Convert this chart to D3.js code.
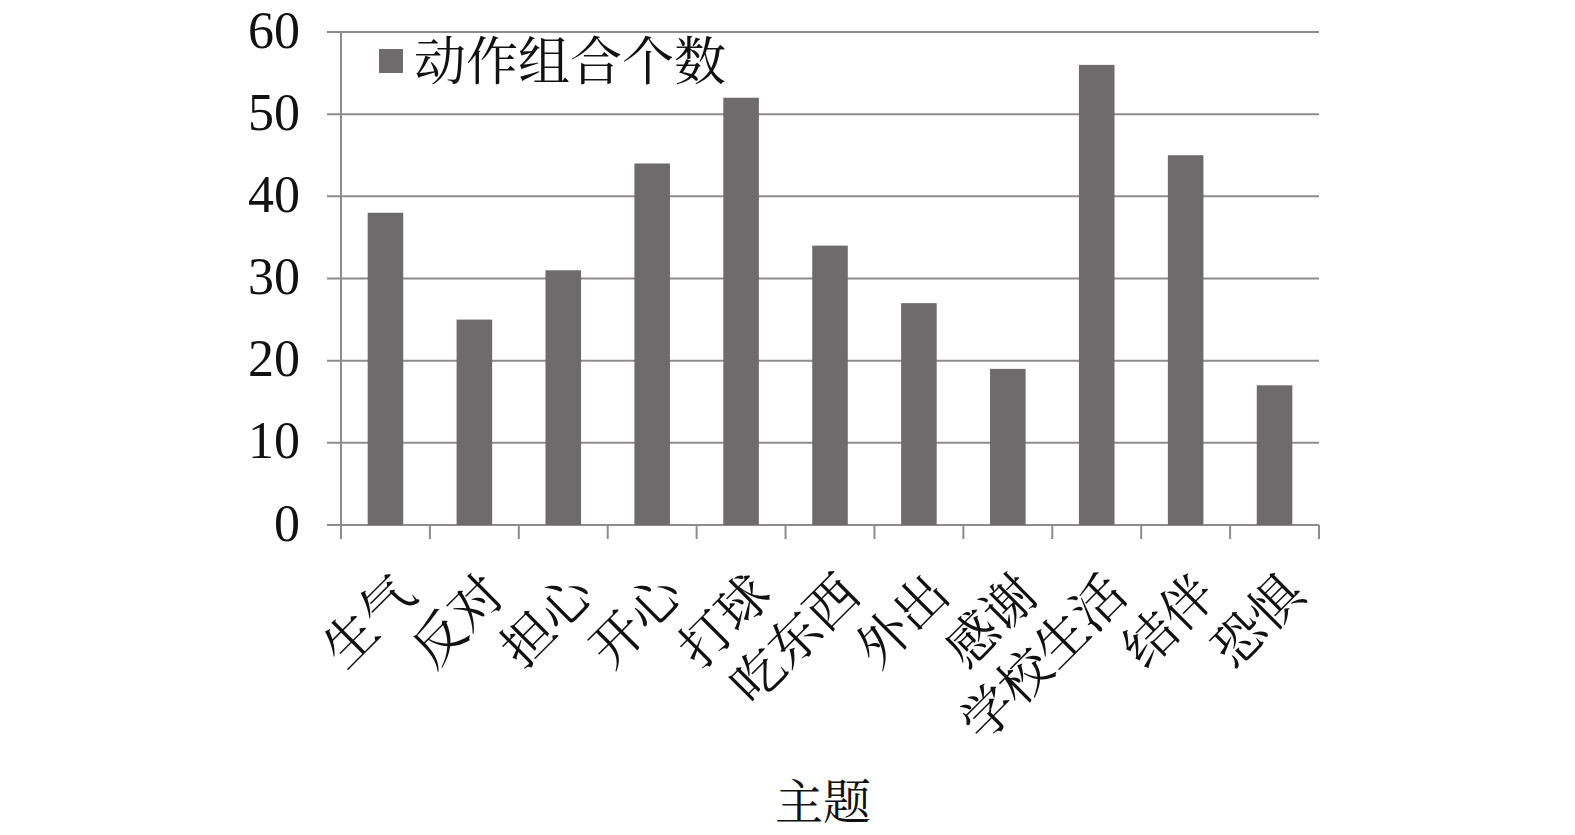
<!DOCTYPE html>
<html>
<head>
<meta charset="utf-8">
<script src="https://cdn.jsdelivr.net/npm/d3@7"></script>
<style>
  html, body { margin: 0; padding: 0; background: #fff; }
</style>
</head>
<body>
<div id="chart"></div>
<script>
const categories = ["生气", "反对", "担心", "开心", "打球", "吃东西", "外出", "感谢", "学校生活", "结伴", "恐惧"];
const values = [38, 25, 31, 44, 52, 34, 27, 19, 56, 45, 17];
const yTicks = [0, 10, 20, 30, 40, 50, 60];
const seriesName = "动作组合个数";
const axisTitle = "主题";

const width = 1575;
const height = 835;
const marginTop = 32;
const marginRight = 256;
const marginBottom = 310;
const marginLeft = 341;

const barColor = "#6d6b6c";
const gridColor = "#8c8c8c";
const cjkFont = "'Noto Serif CJK SC', 'Noto Sans CJK SC', serif";
const numFont = "'Liberation Serif', 'Times New Roman', serif";

const svg = d3.select("#chart")
    .append("svg")
    .attr("width", width)
    .attr("height", height)
    .attr("viewBox", [0, 0, width, height]);

const x = d3.scaleBand(categories, [marginLeft, width - marginRight])
    .paddingInner(0.6)
    .paddingOuter(0.3);

// band steps for tick marks between categories
const step = (width - marginRight - marginLeft) / categories.length;

const y = d3.scaleLinear([0, 60], [height - marginBottom, marginTop]);

// gridlines
svg.append("g")
    .selectAll("line")
    .data(yTicks)
    .join("line")
    .attr("x1", marginLeft - 14)
    .attr("x2", width - marginRight)
    .attr("y1", d => y(d))
    .attr("y2", d => y(d))
    .attr("stroke", gridColor)
    .attr("stroke-width", 2);

// y axis line
svg.append("line")
    .attr("x1", marginLeft)
    .attr("x2", marginLeft)
    .attr("y1", y(60))
    .attr("y2", y(0) + 14)
    .attr("stroke", gridColor)
    .attr("stroke-width", 2);

// x tick marks between categories
svg.append("g")
    .selectAll("line")
    .data(d3.range(1, categories.length + 1))
    .join("line")
    .attr("x1", i => marginLeft + i * step)
    .attr("x2", i => marginLeft + i * step)
    .attr("y1", y(0))
    .attr("y2", y(0) + 14)
    .attr("stroke", gridColor)
    .attr("stroke-width", 2);

// y tick labels
svg.append("g")
    .selectAll("text")
    .data(yTicks)
    .join("text")
    .attr("x", 300)
    .attr("y", d => y(d))
    .attr("dy", "0.3em")
    .attr("text-anchor", "end")
    .style("font-family", numFont)
    .attr("font-size", 52)
    .attr("fill", "#111")
    .text(d => d);

// bars
svg.append("g")
    .selectAll("rect")
    .data(values)
    .join("rect")
    .attr("x", (d, i) => x(categories[i]))
    .attr("y", d => y(d))
    .attr("width", x.bandwidth())
    .attr("height", d => y(0) - y(d))
    .attr("fill", barColor);

// x labels, rotated
svg.append("g")
    .selectAll("text")
    .data(categories)
    .join("text")
    .attr("transform", d => `translate(${x(d) + x.bandwidth() / 2 + 33},${y(0) + 72}) rotate(-45)`)
    .attr("text-anchor", "end")
    .style("font-family", cjkFont)
    .attr("font-size", 52)
    .attr("fill", "#111")
    .text(d => d);

// legend
const legend = svg.append("g")
    .attr("transform", "translate(379,49)");

legend.append("rect")
    .attr("width", 24)
    .attr("height", 24)
    .attr("fill", barColor);

legend.append("text")
    .attr("x", 35)
    .attr("y", 12)
    .attr("dy", "0.36em")
    .style("font-family", cjkFont)
    .attr("font-size", 52)
    .attr("fill", "#111")
    .text(seriesName);

// axis title
svg.append("text")
    .attr("x", 823)
    .attr("y", 819)
    .attr("text-anchor", "middle")
    .style("font-family", cjkFont)
    .attr("font-size", 48)
    .attr("fill", "#111")
    .text(axisTitle);
</script>
</body>
</html>
